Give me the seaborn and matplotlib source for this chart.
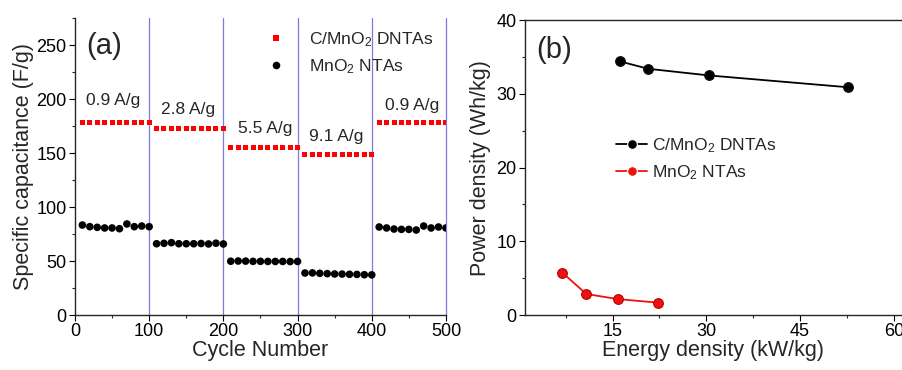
import pandas as pd
import numpy as np
import seaborn as sns
import matplotlib.pyplot as plt
from matplotlib.ticker import MultipleLocator

# Panel (a): rate capability, one point every 10 cycles
cycles = list(range(10, 510, 10))
cap_c_mno2 = ([177.8] * 10 + [173.1] * 10 + [154.9] * 10 + [148.5] * 10 + [177.8] * 10)
cap_mno2 = [83.3, 81.8, 81.2, 80.6, 80.6, 79.9, 84.3, 81.8, 82.4, 81.8,
            66.0, 66.4, 67.0, 66.0, 66.0, 66.0, 66.2, 65.8, 66.5, 65.8,
            49.8, 50.0, 49.9, 49.7, 49.7, 49.6, 49.6, 49.6, 49.5, 49.6,
            38.9, 39.0, 38.6, 38.3, 38.0, 37.9, 37.7, 37.6, 37.3, 37.2,
            81.5, 80.6, 79.6, 79.3, 79.3, 78.7, 82.4, 80.6, 81.5, 80.6]
rate_labels = ['0.9 A/g', '2.8 A/g', '5.5 A/g', '9.1 A/g', '0.9 A/g']
rate_label_x = [52, 152, 256, 352, 454]
rate_label_y = [199, 190, 173, 165, 194]
boundaries = [100, 200, 300, 400, 500]

# Panel (b): Ragone data
energy_c_mno2 = [16.2, 20.7, 30.4, 52.6]
power_c_mno2 = [34.4, 33.4, 32.5, 30.9]
energy_mno2 = [7.0, 10.8, 15.8, 22.3]
power_mno2 = [5.74, 2.85, 2.17, 1.67]

lbl_c = 'C/MnO$_2$ DNTAs'
lbl_m = 'MnO$_2$ NTAs'

sns.set_theme(style='ticks')
plt.rcParams['font.family'] = ['Liberation Sans', 'DejaVu Sans']
plt.rcParams['mathtext.fontset'] = 'custom'
plt.rcParams['mathtext.rm'] = 'Liberation Sans'
plt.rcParams['mathtext.it'] = 'Liberation Sans:italic'

fig = plt.figure(figsize=(9.02, 3.70), dpi=100)
ax1 = fig.add_axes([0.0831, 0.1486, 0.4113, 0.8027])
ax2 = fig.add_axes([0.582, 0.1486, 0.418, 0.797])

df_a = pd.DataFrame({'cycle': cycles * 2,
                     'cap': cap_c_mno2 + cap_mno2,
                     'sample': [lbl_c] * len(cycles) + [lbl_m] * len(cycles)})

for b in boundaries:
    ax1.axvline(b, color='#7b7be0', lw=0.9, zorder=1, clip_on=False)

sns.scatterplot(data=df_a, x='cycle', y='cap', hue='sample', style='sample',
                palette={lbl_c: '#ff0000', lbl_m: 'black'},
                markers={lbl_c: 's', lbl_m: 'o'},
                size='sample', sizes={lbl_c: 13, lbl_m: 30},
                linewidth=0, ax=ax1, zorder=3)

ax1.set_xlim(0, 500)
ax1.set_ylim(0, 275)
ax1.xaxis.set_major_locator(MultipleLocator(100))
ax1.xaxis.set_minor_locator(MultipleLocator(50))
ax1.yaxis.set_major_locator(MultipleLocator(50))
ax1.yaxis.set_minor_locator(MultipleLocator(25))
ax1.spines['top'].set_visible(False)
ax1.spines['right'].set_visible(False)
ax1.set_xlabel('Cycle Number', fontsize=15.5, labelpad=0)
ax1.set_ylabel('Specific capacitance (F/g)', fontsize=15.5, labelpad=2)
for t, xx, yy in zip(rate_labels, rate_label_x, rate_label_y):
    ax1.text(xx, yy, t, fontsize=12.5, ha='center', va='center')
ax1.text(0.03, 0.905, '(a)', transform=ax1.transAxes, fontsize=21,
         ha='left', va='center')
leg1 = ax1.legend(loc='upper right', bbox_to_anchor=(1.0, 1.0), frameon=False,
                  fontsize=12.5, handletextpad=0.9, markerscale=1.0,
                  borderaxespad=0.3, labelspacing=0.5)

# Panel (b)
df_b = pd.DataFrame({'energy': energy_c_mno2 + energy_mno2,
                     'power': power_c_mno2 + power_mno2,
                     'sample': [lbl_c] * 4 + [lbl_m] * 4})
sns.lineplot(data=df_b, x='energy', y='power', hue='sample',
             palette={lbl_c: 'black', lbl_m: '#ee1111'},
             marker='o', markersize=7, markeredgewidth=0.8,
             lw=1.3, ax=ax2, sort=False)
for ln, ec in zip(ax2.lines, ['#111111', '#bb0000']):
    ln.set_markeredgecolor(ec)

ax2.set_xlim(1, 61.3)
ax2.set_ylim(0, 40)
ax2.xaxis.set_major_locator(MultipleLocator(15))
ax2.xaxis.set_minor_locator(MultipleLocator(7.5))
ax2.yaxis.set_major_locator(MultipleLocator(10))
ax2.yaxis.set_minor_locator(MultipleLocator(5))
ax2.spines['right'].set_visible(False)
ax2.set_xlabel('Energy density (kW/kg)', fontsize=15.5, labelpad=0)
ax2.set_ylabel('Power density (Wh/kg)', fontsize=15.5, labelpad=4)
ax2.text(0.03, 0.9, '(b)', transform=ax2.transAxes, fontsize=21,
         ha='left', va='center')
leg2 = ax2.legend(loc='upper left', bbox_to_anchor=(0.2, 0.66), frameon=False,
                  fontsize=12.5, handlelength=1.8, handletextpad=0.3,
                  labelspacing=0.5)
for h in leg2.legend_handles:
    h.set_markersize(7)

for ax in (ax1, ax2):
    ax.tick_params(which='major', direction='out', length=4, width=0.8,
                   labelsize=13, pad=2, colors='black')
    ax.tick_params(which='minor', direction='out', length=2.5, width=0.8)
    for sp in ax.spines.values():
        sp.set_linewidth(1.0)

fig.savefig('out.png', dpi=100)
